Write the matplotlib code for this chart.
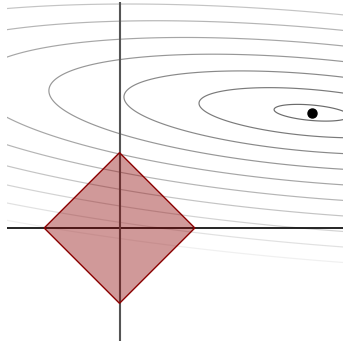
import matplotlib
matplotlib.use('Agg')
import matplotlib.pyplot as plt
import numpy as np
from matplotlib.patches import Polygon

# least squares optimum and the shape of the loss ellipses
center = [2.55, 1.53]
tilt_deg = -5.0
axis_ratio = 0.205
levels = [0.5, 1.5, 2.5, 3.5, 4.5, 5.5, 6.5, 7.5, 8.5, 9.5]

# l1 ball |b1| + |b2| <= t
t = 1.0
diamond = [[t, 0], [0, t], [-t, 0], [0, -t]]

xlim = [-1.5, 3.0]
ylim = [-1.5, 3.0]

fig = plt.figure(figsize=(3.43, 3.46), dpi=100)
ax = fig.add_axes([6.5 / 343, 5 / 346, 339 / 343, 339 / 346])

x = np.linspace(xlim[0], xlim[1], 500)
y = np.linspace(ylim[0], ylim[1], 500)
X, Y = np.meshgrid(x, y)
phi = np.deg2rad(tilt_deg)
dx = X - center[0]
dy = Y - center[1]
u = dx * np.cos(phi) + dy * np.sin(phi)
v = -dx * np.sin(phi) + dy * np.cos(phi)
F = np.sqrt(u ** 2 + (v / axis_ratio) ** 2)

greys = [str(0.42 + (lv - 0.5) * 0.058) for lv in levels]
ax.contour(X, Y, F, levels=levels, colors=greys, linewidths=0.85, zorder=1)

ax.axhline(0, color='black', lw=1.2, zorder=2)
ax.axvline(0, color='#555555', lw=1.5, zorder=2)

ax.add_patch(Polygon(diamond, closed=True, facecolor='darkred', alpha=0.4,
                     edgecolor='none', zorder=3))
ax.add_patch(Polygon(diamond, closed=True, facecolor='none',
                     edgecolor='darkred', lw=1.0, zorder=4))

ax.plot(center[0], center[1], 'o', color='black', ms=6.5, zorder=5)

ax.set_xlim(xlim)
ax.set_ylim(ylim)
ax.set_aspect('auto')
ax.axis('off')

fig.savefig('out.png', dpi=100)
